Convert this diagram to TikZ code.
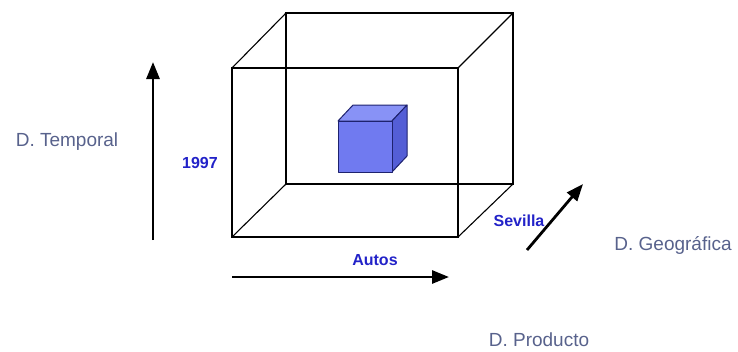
\documentclass[tikz,border=0pt]{standalone}
\usepackage{fontspec}
\setmainfont{Liberation Sans}
\usepackage{xcolor}
\usetikzlibrary{arrows.meta,positioning}
\definecolor{DimGray}{RGB}{88,98,140}
\definecolor{ValBlue}{RGB}{34,34,200}
\definecolor{CubeFront}{RGB}{112,122,240}
\definecolor{CubeTop}{RGB}{136,146,246}
\definecolor{CubeSide}{RGB}{84,94,214}
\definecolor{CubeEdge}{RGB}{30,34,110}

\begin{document}
\begin{tikzpicture}[
    x=1pt, y=-1pt,
    dimlabel/.style={text=DimGray, font=\fontsize{19}{22}\selectfont, inner sep=0pt},
    vallabel/.style={text=ValBlue, font=\fontsize{16}{19}\selectfont\bfseries, inner sep=0pt},
    wire/.style={draw=black, line width=1.1pt},
    axis/.style={-{Triangle[length=17pt, width=13pt]}, line width=2.8pt, draw=black},
    face/.style={draw=CubeEdge, line width=1pt, line join=round}
  ]
    \useasboundingbox (0,0) rectangle (738,351);
    % outer wire box
    \draw[wire] (286,13) rectangle (513,184);
    \draw[wire] (232,68) rectangle (458,237);
    \draw[wire] (232,68) -- (286,13);
    \draw[wire] (458,68) -- (513,13);
    \draw[wire] (232,237) -- (286,184);
    \draw[wire] (458,237) -- (513,184);
    % small cube
    \filldraw[face, fill=CubeTop] (338,121) -- (353,105) -- (407,105) -- (392,121) -- cycle;
    \filldraw[face, fill=CubeSide] (392,121) -- (407,105) -- (407,156) -- (392,172) -- cycle;
    \filldraw[face, fill=CubeFront] (338,121) rectangle (392,172);
    % axes
    \coordinate (tbase) at (153,240);
    \coordinate (ttip) at (153,62);
    \coordinate (pbase) at (232,277);
    \coordinate (ptip) at (449,277);
    \coordinate (gbase) at (527,250);
    \coordinate (gtip) at (583,184);
    \draw[axis] (tbase) -- (ttip);
    \draw[axis] (pbase) -- (ptip);
    \draw[axis] (gbase) -- (gtip);
    % labels
    \node[dimlabel] (temporal) at (67,142) {D. Temporal};
    \node[dimlabel] (geo) at (673,245) {D. Geográfica};
    \node[dimlabel] (prod) at (539,340) {D. Producto};
    \node[vallabel] (year) at (200,163) {1997};
    \node[vallabel] (autos) at (375,260) {Autos};
    \node[vallabel] (city) at (519,221) {Sevilla};
\end{tikzpicture}
\end{document}
